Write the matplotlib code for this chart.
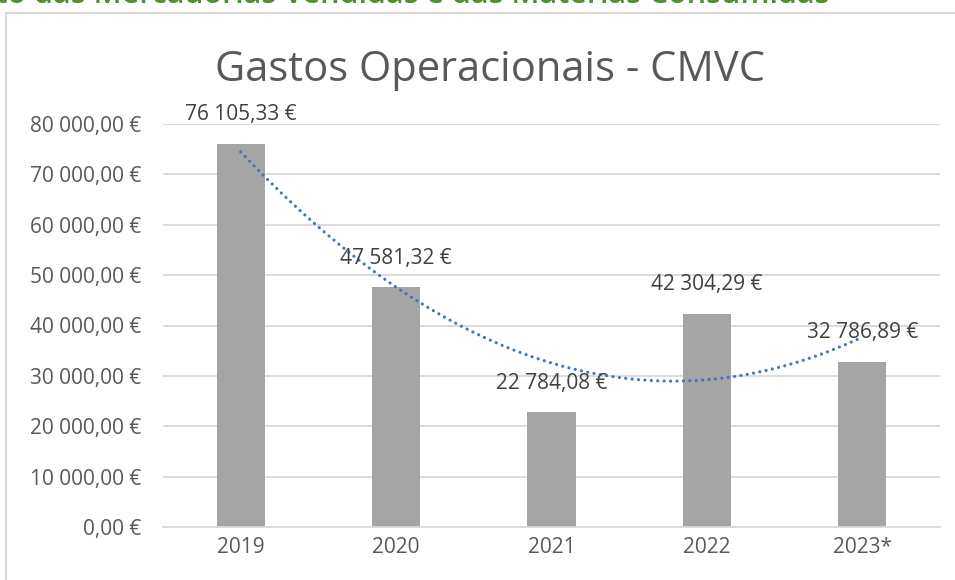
import matplotlib
matplotlib.use("Agg")
import matplotlib.pyplot as plt
from matplotlib.patches import Rectangle
import numpy as np

categories = ["2019", "2020", "2021", "2022", "2023*"]
values = [76105.33, 47581.32, 22784.08, 42304.29, 32786.89]
labels = ["76 105,33 €", "47 581,32 €", "22 784,08 €", "42 304,29 €", "32 786,89 €"]
yticks = [0, 10000, 20000, 30000, 40000, 50000, 60000, 70000, 80000]
ytick_labels = ["0,00 €", "10 000,00 €", "20 000,00 €", "30 000,00 €", "40 000,00 €",
                "50 000,00 €", "60 000,00 €", "70 000,00 €", "80 000,00 €"]
title = "Gastos Operacionais - CMVC"
header = "Custo das Mercadorias Vendidas e das Matérias Consumidas"

plt.rcParams['font.family'] = ['Open Sans', 'DejaVu Sans']

W, H = 955, 580
fig = plt.figure(figsize=(W/100, H/100), dpi=100)

# chart frame
fig.patches.append(Rectangle((6/W, -0.1), 1.2, 1 - 13/H + 0.1, transform=fig.transFigure,
                             fill=False, edgecolor="#d9d9d9", linewidth=1.5, zorder=0))
# cut-off header text (partly outside the picture, as in the reference)
fig.text(829/W, 1 - 3/H, header, color="#4f8f30", fontsize=22, fontweight="semibold",
         ha="right", va="baseline")

ax = fig.add_axes([163/W, 1 - 527/H, (940 - 163)/W, (527 - 124)/H])
x = np.arange(len(categories))
ax.bar(x, values, width=0.31, color="#a5a5a5", zorder=2)
ax.set_xlim(-0.5, len(categories) - 0.5)
ax.set_ylim(0, 80000)
ax.set_yticks(yticks)
ax.set_yticklabels(ytick_labels)
ax.set_xticks(x)
ax.set_xticklabels(categories)
ax.yaxis.grid(True, color="#d9d9d9", linewidth=1.3, zorder=0)
ax.tick_params(axis="both", length=0, labelsize=15, labelcolor="#595959")
ax.tick_params(axis="y", pad=16)
ax.tick_params(axis="x", pad=7)
for s in ["top", "right", "left"]:
    ax.spines[s].set_visible(False)
ax.spines["bottom"].set_color("#d9d9d9")
ax.spines["bottom"].set_linewidth(1.3)

# polynomial (order 2) trendline
coef = np.polyfit(x, values, 2)
xt = np.linspace(0, len(categories) - 1, 300)
ax.plot(xt, np.polyval(coef, xt), linestyle=(0, (0.01, 2.0)), color="#4472c4",
        linewidth=2.3, dash_capstyle="round", zorder=4)

for xi, v, lab in zip(x, values, labels):
    ax.annotate(lab, (xi, v), xytext=(0, 21), textcoords="offset points",
                ha="center", va="center", fontsize=15, color="#404040", zorder=5)

fig.text(490/W, 1 - 70/H, title, fontsize=30, color="#595959", ha="center", va="center")

fig.savefig("out.png", dpi=100)
